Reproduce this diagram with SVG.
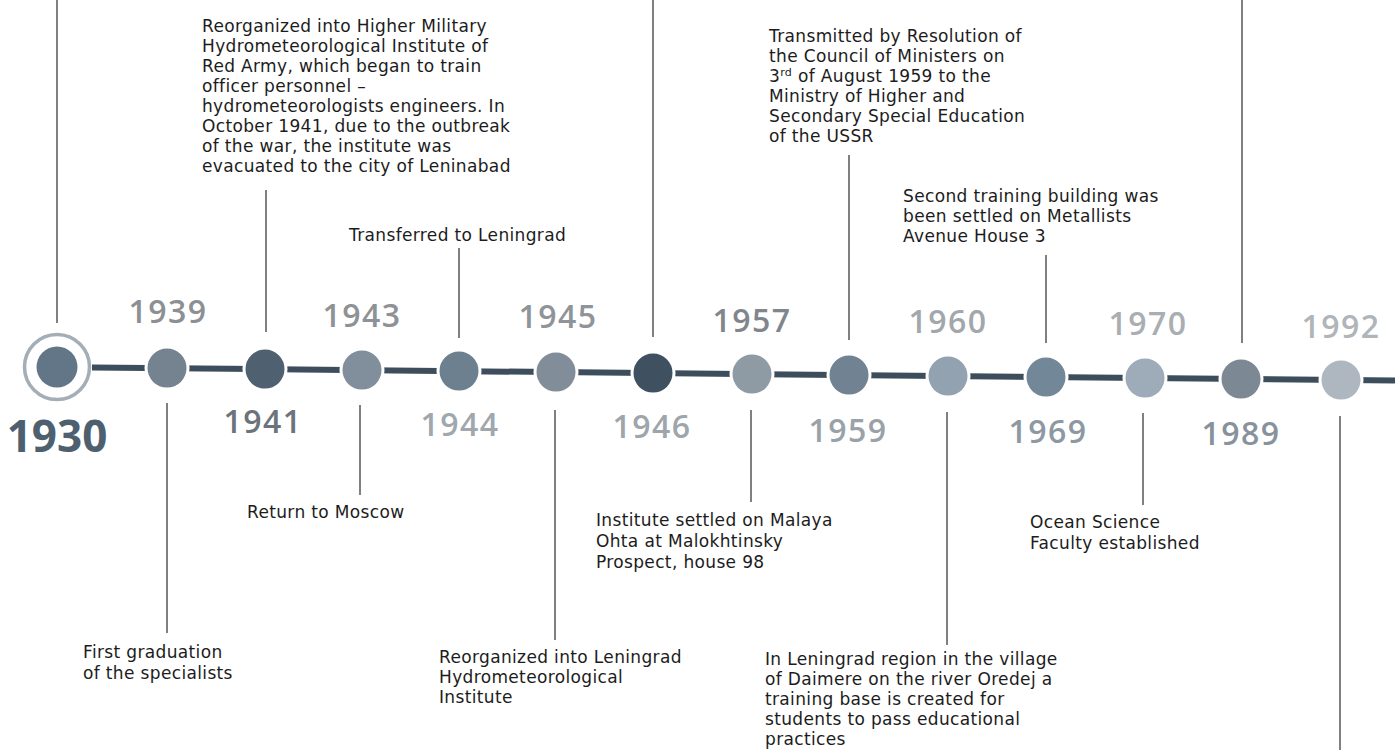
<svg xmlns="http://www.w3.org/2000/svg" width="1395" height="753" viewBox="0 0 1395 753">
<style>
.txt{font-family:"DejaVu Sans","Open Sans",sans-serif;font-size:17px;letter-spacing:0.35px;fill:#1c1c1c}
.yr{font-family:"Open Sans","Liberation Sans",sans-serif;font-size:32px;font-weight:600;letter-spacing:1.5px;text-anchor:middle}
.stem{stroke:#808080;stroke-width:2;fill:none}
.dot{stroke:#ffffff;stroke-width:3}
</style>
<rect width="1395" height="753" fill="#ffffff"/>
<g id="connectors">
<line x1="92" y1="367.4" x2="1395" y2="380.6" stroke="#3d4d5b" stroke-width="6"/>
<line class="stem" x1="57" y1="0" x2="57" y2="323"/>
<line class="stem" x1="167" y1="403" x2="167" y2="633"/>
<line class="stem" x1="266" y1="190" x2="266" y2="332"/>
<line class="stem" x1="360" y1="405" x2="360" y2="495"/>
<line class="stem" x1="459" y1="248" x2="459" y2="338"/>
<line class="stem" x1="555" y1="410" x2="555" y2="640"/>
<line class="stem" x1="653" y1="0" x2="653" y2="337"/>
<line class="stem" x1="751" y1="410" x2="751" y2="502"/>
<line class="stem" x1="849" y1="155" x2="849" y2="340"/>
<line class="stem" x1="947" y1="412" x2="947" y2="645"/>
<line class="stem" x1="1046" y1="255" x2="1046" y2="343"/>
<line class="stem" x1="1143" y1="413" x2="1143" y2="505"/>
<line class="stem" x1="1242" y1="0" x2="1242" y2="343"/>
<line class="stem" x1="1340" y1="416" x2="1340" y2="750"/>
</g>
<g id="n1930">
<circle cx="57" cy="367" r="32.5" fill="#ffffff" stroke="#a3aeb7" stroke-width="3.5"/>
<circle cx="57" cy="367" r="20.5" fill="#627687"/>
<text class="yr" x="57" y="452" style="font-size:44px;font-weight:700;letter-spacing:0" fill="#4e6070">1930</text>
</g>
<g id="n1939">
<circle class="dot" cx="167" cy="368.1" r="21" fill="#74838f"/>
<text class="yr" x="168" y="323" fill="#8c9094">1939</text>
<text class="txt" x="83" y="658">First graduation<tspan x="83" dy="21">of the specialists</tspan></text>
</g>
<g id="n1941">
<circle class="dot" cx="265" cy="369.1" r="21" fill="#4f6170"/>
<text class="yr" x="263" y="433" fill="#6b737b">1941</text>
<text class="txt" x="202" y="32">Reorganized into Higher Military<tspan x="202" dy="20">Hydrometeorological Institute of</tspan><tspan x="202" dy="20">Red Army, which began to train</tspan><tspan x="202" dy="20">officer personnel –</tspan><tspan x="202" dy="20">hydrometeorologists engineers. In</tspan><tspan x="202" dy="20">October 1941, due to the outbreak</tspan><tspan x="202" dy="20">of the war, the institute was</tspan><tspan x="202" dy="20">evacuated to the city of Leninabad</tspan></text>
</g>
<g id="n1943">
<circle class="dot" cx="362" cy="370.1" r="21" fill="#808f9b"/>
<text class="yr" x="362" y="327" fill="#8e9296">1943</text>
<text class="txt" x="247" y="518">Return to Moscow</text>
</g>
<g id="n1944">
<circle class="dot" cx="459" cy="371.1" r="21" fill="#6d8090"/>
<text class="yr" x="460" y="436" fill="#a0a7ad">1944</text>
<text class="txt" x="349" y="241">Transferred to Leningrad</text>
</g>
<g id="n1945">
<circle class="dot" cx="556" cy="372.1" r="21" fill="#818e99"/>
<text class="yr" x="558" y="328" fill="#8f9499">1945</text>
<text class="txt" x="439" y="663">Reorganized into Leningrad<tspan x="439" dy="20">Hydrometeorological</tspan><tspan x="439" dy="20">Institute</tspan></text>
</g>
<g id="n1946">
<circle class="dot" cx="653" cy="373.1" r="21" fill="#3f5061"/>
<text class="yr" x="652" y="438" fill="#9ea5ab">1946</text>
</g>
<g id="n1957">
<circle class="dot" cx="752" cy="374.1" r="21" fill="#8e9ba5"/>
<text class="yr" x="752" y="332" fill="#80868b">1957</text>
<text class="txt" x="596" y="526">Institute settled on Malaya<tspan x="596" dy="21">Ohta at Malokhtinsky</tspan><tspan x="596" dy="21">Prospect, house 98</tspan></text>
</g>
<g id="n1959">
<circle class="dot" cx="849" cy="375.1" r="21" fill="#718393"/>
<text class="yr" x="848" y="442" fill="#9aa2a9">1959</text>
<text class="txt" x="769" y="42">Transmitted by Resolution of<tspan x="769" dy="20">the Council of Ministers on</tspan><tspan x="769" dy="20">3</tspan><tspan font-size="11" dy="-6">rd</tspan><tspan dy="6"> of August 1959 to the</tspan><tspan x="769" dy="20">Ministry of Higher and</tspan><tspan x="769" dy="20">Secondary Special Education</tspan><tspan x="769" dy="20">of the USSR</tspan></text>
</g>
<g id="n1960">
<circle class="dot" cx="948" cy="376.1" r="21" fill="#93a2b0"/>
<text class="yr" x="948" y="333" fill="#a2a7ab">1960</text>
<text class="txt" x="765" y="665">In Leningrad region in the village<tspan x="765" dy="20">of Daimere on the river Oredej a</tspan><tspan x="765" dy="20">training base is created for</tspan><tspan x="765" dy="20">students to pass educational</tspan><tspan x="765" dy="20">practices</tspan></text>
</g>
<g id="n1969">
<circle class="dot" cx="1046" cy="377.1" r="21" fill="#728797"/>
<text class="yr" x="1048" y="443" fill="#8d98a3">1969</text>
<text class="txt" x="903" y="202">Second training building was<tspan x="903" dy="20">been settled on Metallists</tspan><tspan x="903" dy="20">Avenue House 3</tspan></text>
</g>
<g id="n1970">
<circle class="dot" cx="1145" cy="378.1" r="21" fill="#9eacb9"/>
<text class="yr" x="1148" y="335" fill="#a9aeb2">1970</text>
<text class="txt" x="1030" y="528">Ocean Science<tspan x="1030" dy="21">Faculty established</tspan></text>
</g>
<g id="n1989">
<circle class="dot" cx="1241" cy="379.1" r="21" fill="#7c8995"/>
<text class="yr" x="1241" y="445" fill="#87929c">1989</text>
</g>
<g id="n1992">
<circle class="dot" cx="1341" cy="380.1" r="21" fill="#aeb7c0"/>
<text class="yr" x="1341" y="338" fill="#b0b5b9">1992</text>
</g>
</svg>
